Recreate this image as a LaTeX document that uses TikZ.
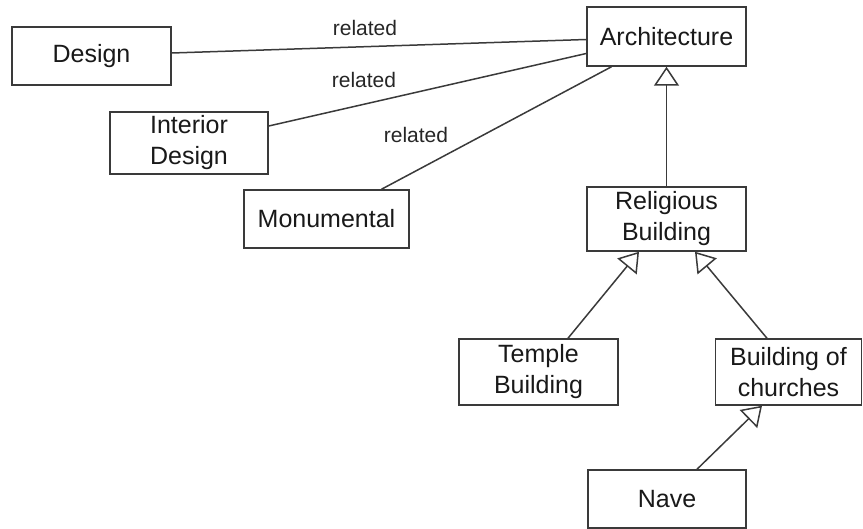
\documentclass[tikz,border=0pt]{standalone}
\usepackage{fontspec}
\setmainfont{Liberation Sans}
\usetikzlibrary{arrows.meta}
\definecolor{ln}{HTML}{3A3A3A}
\begin{document}
\begin{tikzpicture}[x=1pt,y=-1pt,
  box/.style={draw=ln,line width=1.5pt,fill=white,inner sep=0pt,align=center,
    font=\fontsize{25}{31}\selectfont,text=black!90},
  rel/.style={draw=ln,line width=1.5pt},
  gen/.style={draw=ln,line width=1.5pt,-{Triangle[open,length=19pt,width=25pt,fill=white]}},
  lbl/.style={font=\fontsize{21}{24}\selectfont,text=black!85,inner sep=0pt}]
\useasboundingbox (0,0) rectangle (863,529);
\node[box,minimum width=159pt,minimum height=58pt] (design) at (91.5,56) {Design};
\node[box,minimum width=158pt,minimum height=62pt] (interior) at (189,143) {Interior\\Design};
\node[box,minimum width=165pt,minimum height=58pt] (mon) at (326.5,219) {Monumental};
\node[box,minimum width=159pt,minimum height=59pt] (arch) at (666.5,36.5) {Architecture};
\node[box,minimum width=159pt,minimum height=64pt] (relig) at (666.5,219) {Religious\\Building};
\node[box,minimum width=159pt,minimum height=66pt] (temple) at (538.5,372) {Temple\\Building};
\node[box,minimum width=146pt,minimum height=66pt] (church) at (788.5,372) {Building of\\churches};
\node[box,minimum width=158pt,minimum height=58pt] (nave) at (667,499) {Nave};
\draw[rel] ([yshift=3pt]design.east) -- ([yshift=-3pt]arch.west);
\draw[rel] ([yshift=17pt]interior.east) -- ([yshift=-17pt]arch.west);
\draw[rel] ([xshift=55pt]mon.north) -- ([xshift=-55pt]arch.south);
\node[lbl] (r1) at (365,28) {related};
\node[lbl] (r2) at (364,80) {related};
\node[lbl] (r3) at (416,135) {related};
\draw[gen] (relig.north) -- (arch.south);
\draw[gen] ([xshift=29.5pt]temple.north) -- ([xshift=-27.5pt]relig.south);
\draw[gen] ([xshift=-21.5pt]church.north) -- ([xshift=28.5pt]relig.south);
\draw[gen] ([xshift=30pt]nave.north) -- ([xshift=-26.5pt]church.south);
\end{tikzpicture}
\end{document}
